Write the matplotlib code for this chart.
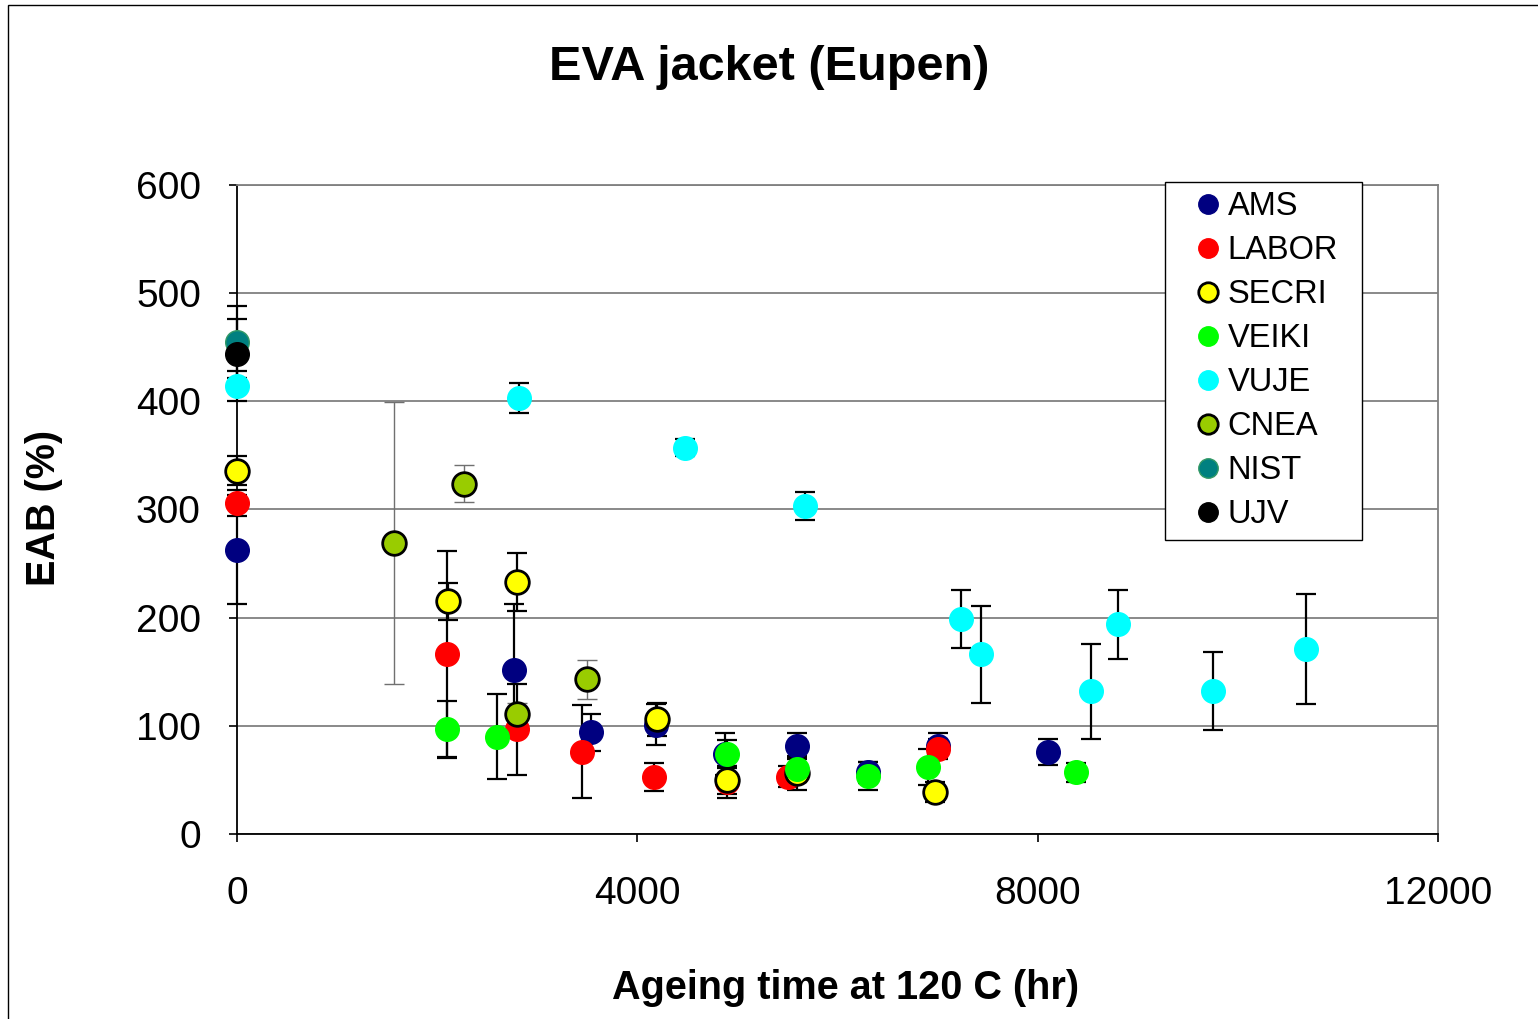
import matplotlib
matplotlib.use("Agg")
import matplotlib.pyplot as plt
from matplotlib.lines import Line2D
from matplotlib.patches import Rectangle

plt.rcParams['font.family'] = ['Liberation Sans', 'DejaVu Sans']

# Elongation at break (%) vs ageing time (hr) for each laboratory
ams_x = [0, 2770, 3534, 4190, 4880, 5600, 6300, 7008, 8100]
ams_y = [263, 152, 94, 101, 74, 81, 57, 81, 76]
ams_e = [50, 61, 17, 19, 19, 12, 10, 12, 12]

labor_x = [0, 2100, 2800, 3444, 4166, 4900, 5509, 7001]
labor_y = [306, 166, 97, 76, 53, 48, 53, 79]
labor_e = [12, 96, 42, 43, 13, 15, 10, 9]

secri_x = [0, 2105, 2795, 4200, 4900, 5600, 6974]
secri_y = [336, 215, 233, 106, 50, 56, 39]
secri_e = [13, 17, 27, 15, 13, 15, 9]

veiki_x = [2100, 2595, 4900, 5600, 6300, 6901, 8380]
veiki_y = [97, 90, 74, 60, 54, 62, 57]
veiki_e = [26, 39, 13, 12, 13, 17, 9]

vuje_x = [0, 2818, 4476, 5675, 7231, 7431, 8530, 8806, 9756, 10681]
vuje_y = [414, 403, 357, 303, 199, 166, 132, 194, 132, 171]
vuje_e = [14, 14, 8, 13, 27, 45, 44, 32, 36, 51]

cnea_x = [1569, 2268, 2795, 3494]
cnea_y = [269, 324, 111, 143]
cnea_e = [130, 17, 10, 18]

nist_x = [0]
nist_y = [455]
nist_e = [33]

ujv_x = [0]
ujv_y = [444]
ujv_e = [32]

x_ticks = [0, 4000, 8000, 12000]
y_ticks = [0, 100, 200, 300, 400, 500, 600]

series = [
    ("AMS", ams_x, ams_y, ams_e, "#000080", "#000080", "black", 1.6),
    ("LABOR", labor_x, labor_y, labor_e, "#FF0000", "#FF0000", "black", 1.6),
    ("SECRI", secri_x, secri_y, secri_e, "#FFFF00", "black", "black", 1.6),
    ("VEIKI", veiki_x, veiki_y, veiki_e, "#00FF00", "#00FF00", "black", 1.6),
    ("VUJE", vuje_x, vuje_y, vuje_e, "#00FFFF", "#00FFFF", "black", 1.6),
    ("CNEA", cnea_x, cnea_y, cnea_e, "#99CC00", "black", "#707070", 1.0),
    ("NIST", nist_x, nist_y, nist_e, "#008080", "#339966", "black", 1.6),
    ("UJV", ujv_x, ujv_y, ujv_e, "#000000", "#000000", "black", 1.6),
]

W, H = 1538, 1019
fig = plt.figure(figsize=(W / 100, H / 100), dpi=100)
ax = fig.add_axes([237 / W, 1 - 834 / H, (1438 - 237) / W, (834 - 185) / H])

# chart-area frame
fig.patches.append(Rectangle((8 / W, -0.01), 1.02, 1 - 5 / H + 0.01,
                             transform=fig.transFigure, fill=False,
                             edgecolor="black", linewidth=1.0))

for name, xs, ys, es, face, edge, ecol, elw in series:
    eb = ax.errorbar(xs, ys, yerr=es, fmt="none", ecolor=ecol, elinewidth=elw,
                     capsize=7, capthick=elw, zorder=2)
    for art in eb.lines[1] + eb.lines[2]:
        art.set_clip_on(False)

handles = []
for name, xs, ys, es, face, edge, ecol, elw in series:
    ax.plot(xs, ys, linestyle="none", marker="o", markersize=17,
            markerfacecolor=face, markeredgecolor=edge,
            markeredgewidth=2 if edge == "black" else 1, zorder=3,
            clip_on=False)
    handles.append(Line2D([], [], linestyle="none", marker="o", markersize=14,
                          markerfacecolor=face, markeredgecolor=edge,
                          markeredgewidth=2 if edge == "black" else 1,
                          label=name))

ax.set_xlim(0, 12000)
ax.set_ylim(0, 600)
ax.set_xticks(x_ticks)
ax.set_yticks(y_ticks)
ax.tick_params(axis="both", direction="out", length=6, width=1.2,
               labelsize=28, colors="black")
ax.tick_params(axis="y", pad=20)
ax.tick_params(axis="x", pad=24)

ax.yaxis.grid(True, color="#808080", linewidth=1.3, zorder=0)
ax.set_axisbelow(True)
for side in ("top", "right"):
    ax.spines[side].set_color("#808080")
    ax.spines[side].set_linewidth(1.3)
for side in ("left", "bottom"):
    ax.spines[side].set_color("black")
    ax.spines[side].set_linewidth(1.3)

fig.text(0.5, 1 - 67 / H, "EVA jacket (Eupen)", ha="center", va="center",
         fontsize=35, fontweight="bold")
fig.text(846 / W, 1 - 988 / H, "Ageing time at 120 C (hr)", ha="center",
         va="center", fontsize=28.5, fontweight="bold")
fig.text(44 / W, 1 - 508 / H, "EAB (%)", ha="center", va="center",
         rotation=90, fontsize=28.5, fontweight="bold")

# legend box drawn separately, entries placed inside it
fig.patches.append(Rectangle((1165 / W, 1 - 540 / H), (1362 - 1165) / W,
                             (540 - 182) / H, transform=fig.transFigure,
                             facecolor="white", edgecolor="black",
                             linewidth=1.0, zorder=4))
leg_fs = 23.5
hl = 0.8
hl_px = hl * leg_fs * 100 / 72
leg = fig.legend(handles=handles, loc="upper left",
                 bbox_to_anchor=((1208 - hl_px / 2) / W, 1 - 191 / H),
                 borderaxespad=0, borderpad=0, frameon=False,
                 fontsize=leg_fs, handlelength=hl, handletextpad=0.2,
                 labelspacing=0.40)
leg.set_zorder(5)

fig.savefig("out.png", dpi=100)
